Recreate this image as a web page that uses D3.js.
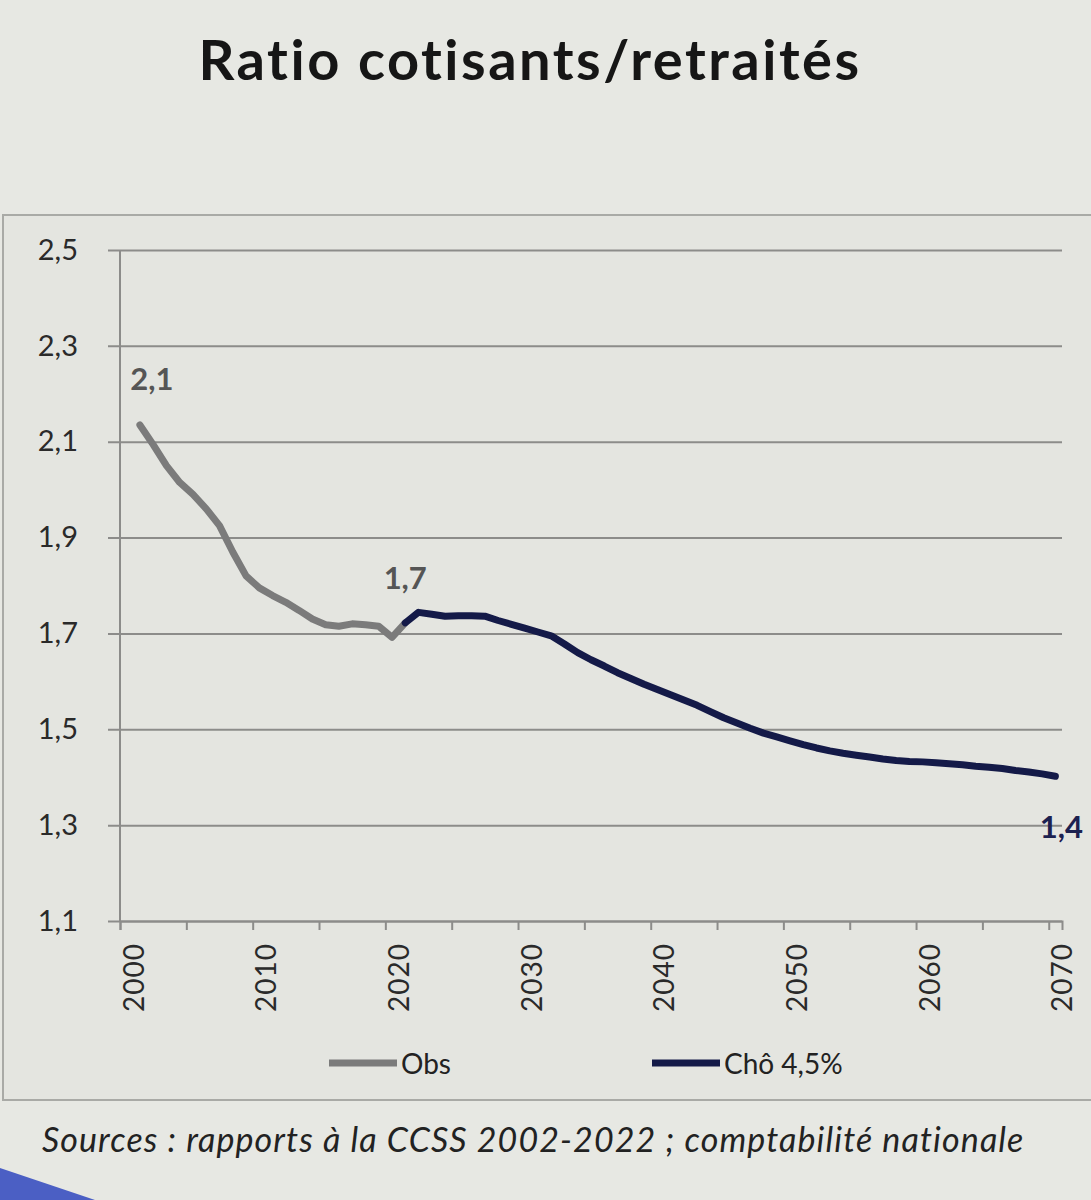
<!DOCTYPE html>
<html>
<head>
<meta charset="utf-8">
<script src="https://cdn.jsdelivr.net/npm/d3@7"></script>
<style>
  body { margin: 0; background: #e7e8e3; }
  svg { display: block; font-family: Lato, 'Open Sans', sans-serif; }
</style>
</head>
<body>
<div id="chart"></div>
<script>
// Observed ratio, 2001-2021
const obsYears = d3.range(2001, 2022)
const obsValues = [2.135, 2.094, 2.05, 2.015, 1.99, 1.96, 1.925, 1.87, 1.82, 1.795, 1.779,
  1.765, 1.748, 1.73, 1.718, 1.715, 1.72, 1.718, 1.715, 1.692, 1.722]

// Projection "Chô 4,5%", 2021-2070
const projYears = d3.range(2021, 2071)
const projValues = [1.722, 1.744, 1.74, 1.736, 1.737, 1.737, 1.736, 1.727, 1.719, 1.711,
  1.703, 1.695, 1.678, 1.66, 1.645, 1.632, 1.618, 1.606, 1.594, 1.583,
  1.572, 1.561, 1.55, 1.537, 1.524, 1.513, 1.502, 1.492, 1.484, 1.476,
  1.468, 1.461, 1.455, 1.45, 1.446, 1.442, 1.438, 1.435, 1.433, 1.432,
  1.43, 1.428, 1.426, 1.423, 1.421, 1.418, 1.414, 1.411, 1.407, 1.402]

const yTicks = [1.1, 1.3, 1.5, 1.7, 1.9, 2.1, 2.3, 2.5]
const xLabels = [2000, 2010, 2020, 2030, 2040, 2050, 2060, 2070]
const seriesNames = ['Obs', 'Chô 4,5%']

const width = 1091
const height = 1200
const plot = { left: 120, right: 1062, top: 250, bottom: 921 }

const svg = d3.select('#chart').append('svg')
  .attr('width', width)
  .attr('height', height)

svg.append('rect')
  .attr('width', width).attr('height', height)
  .attr('fill', '#e7e8e3')

// chart area frame
svg.append('rect')
  .attr('x', 3).attr('y', 215)
  .attr('width', width + 10).attr('height', 885)
  .attr('fill', '#e4e5e0')
  .attr('stroke', '#a9aaa6')
  .attr('stroke-width', 2)

svg.append('text')
  .attr('x', 530).attr('y', 80)
  .attr('text-anchor', 'middle')
  .attr('font-size', 56)
  .attr('font-weight', 'bold')
  .attr('letter-spacing', 2.5)
  .attr('fill', '#161616')
  .text('Ratio cotisants/retraités')

const x = d3.scaleLinear().domain([1999.5, 2070.5]).range([plot.left, plot.right])
const y = d3.scaleLinear().domain([1.1, 2.5]).range([plot.bottom, plot.top])
const fmt = d3.format('.1f')
const comma = v => fmt(v).replace('.', ',')

// horizontal grid + y axis
const yAxis = d3.axisLeft(y)
  .tickValues(yTicks)
  .tickSize(plot.right - plot.left + 12)
  .tickFormat(comma)

const gy = svg.append('g')
  .attr('transform', `translate(${plot.right},0)`)
  .call(yAxis)
  .attr('font-family', null)
gy.select('.domain').remove()
gy.selectAll('.tick line')
  .attr('stroke', '#8c8c8a')
  .attr('stroke-width', 2)
gy.selectAll('.tick text')
  .attr('x', -(plot.right - plot.left) - 42)
  .attr('font-size', 29)
  .attr('fill', '#2a2a2a')

svg.append('line')
  .attr('x1', plot.left).attr('x2', plot.left)
  .attr('y1', plot.top).attr('y2', plot.bottom)
  .attr('stroke', '#8c8c8a')
  .attr('stroke-width', 2)

// x axis, tick marks every 5 categories
const gx = svg.append('g')
  .attr('transform', `translate(0,${plot.bottom})`)
  .call(d3.axisBottom(x)
    .tickValues(d3.range(1999.5, 2071, 5))
    .tickSize(9)
    .tickFormat(''))
gx.select('.domain').attr('stroke', '#8c8c8a').attr('stroke-width', 2)
gx.selectAll('.tick line').attr('stroke', '#8c8c8a').attr('stroke-width', 2)

svg.append('g')
  .selectAll('text')
  .data(xLabels)
  .join('text')
  .attr('transform', d => `translate(${x(d) + 6},${plot.bottom + 22}) rotate(-90)`)
  .attr('text-anchor', 'end')
  .attr('dominant-baseline', 'central')
  .attr('font-size', 28)
  .attr('letter-spacing', 1)
  .attr('fill', '#2a2a2a')
  .text(d => d)

const line = d3.line()
  .x(d => x(d[0]))
  .y(d => y(d[1]))

svg.append('path')
  .datum(obsYears.map((yr, i) => [yr, obsValues[i]]))
  .attr('d', line)
  .attr('fill', 'none')
  .attr('stroke', '#7b7b7b')
  .attr('stroke-width', 7)
  .attr('stroke-linejoin', 'round')
  .attr('stroke-linecap', 'round')

svg.append('path')
  .datum(projYears.map((yr, i) => [yr, projValues[i]]))
  .attr('d', line)
  .attr('fill', 'none')
  .attr('stroke', '#141a48')
  .attr('stroke-width', 7)
  .attr('stroke-linejoin', 'round')
  .attr('stroke-linecap', 'round')

// data labels
const labels = [
  { year: obsYears[0], value: obsValues[0], dx: 12, dy: -35, color: '#555555' },
  { year: obsYears[obsYears.length - 1], value: obsValues[obsValues.length - 1], dx: 0, dy: -34, color: '#555555' },
  { year: projYears[projYears.length - 1], value: projValues[projValues.length - 1], dx: 6, dy: 62, color: '#1c2150' }
]
svg.append('g')
  .selectAll('text')
  .data(labels)
  .join('text')
  .attr('x', d => x(d.year) + d.dx)
  .attr('y', d => y(d.value) + d.dy)
  .attr('text-anchor', 'middle')
  .attr('font-size', 31)
  .attr('font-weight', 'bold')
  .attr('fill', d => d.color)
  .text(d => comma(d.value))

// legend
const legend = svg.append('g')
  .selectAll('g')
  .data(seriesNames)
  .join('g')
  .attr('transform', (d, i) => `translate(${[329, 652][i]},1063)`)
legend.append('line')
  .attr('x1', 0).attr('x2', 68)
  .attr('stroke', (d, i) => ['#7b7b7b', '#141a48'][i])
  .attr('stroke-width', 7)
legend.append('text')
  .attr('x', 72)
  .attr('dominant-baseline', 'central')
  .attr('font-size', 28)
  .attr('fill', '#222')
  .text(d => d)

svg.append('text')
  .attr('x', 42).attr('y', 1152)
  .attr('font-size', 34)
  .attr('font-style', 'italic')
  .attr('letter-spacing', 1.1)
  .attr('fill', '#222')
  .text('Sources : rapports à la CCSS 2002-2022 ; comptabilité nationale')

// slide decoration, bottom left
svg.append('path')
  .attr('d', 'M0,1168 L95,1200 L0,1200 Z')
  .attr('fill', '#4b5fc4')
</script>
</body>
</html>
